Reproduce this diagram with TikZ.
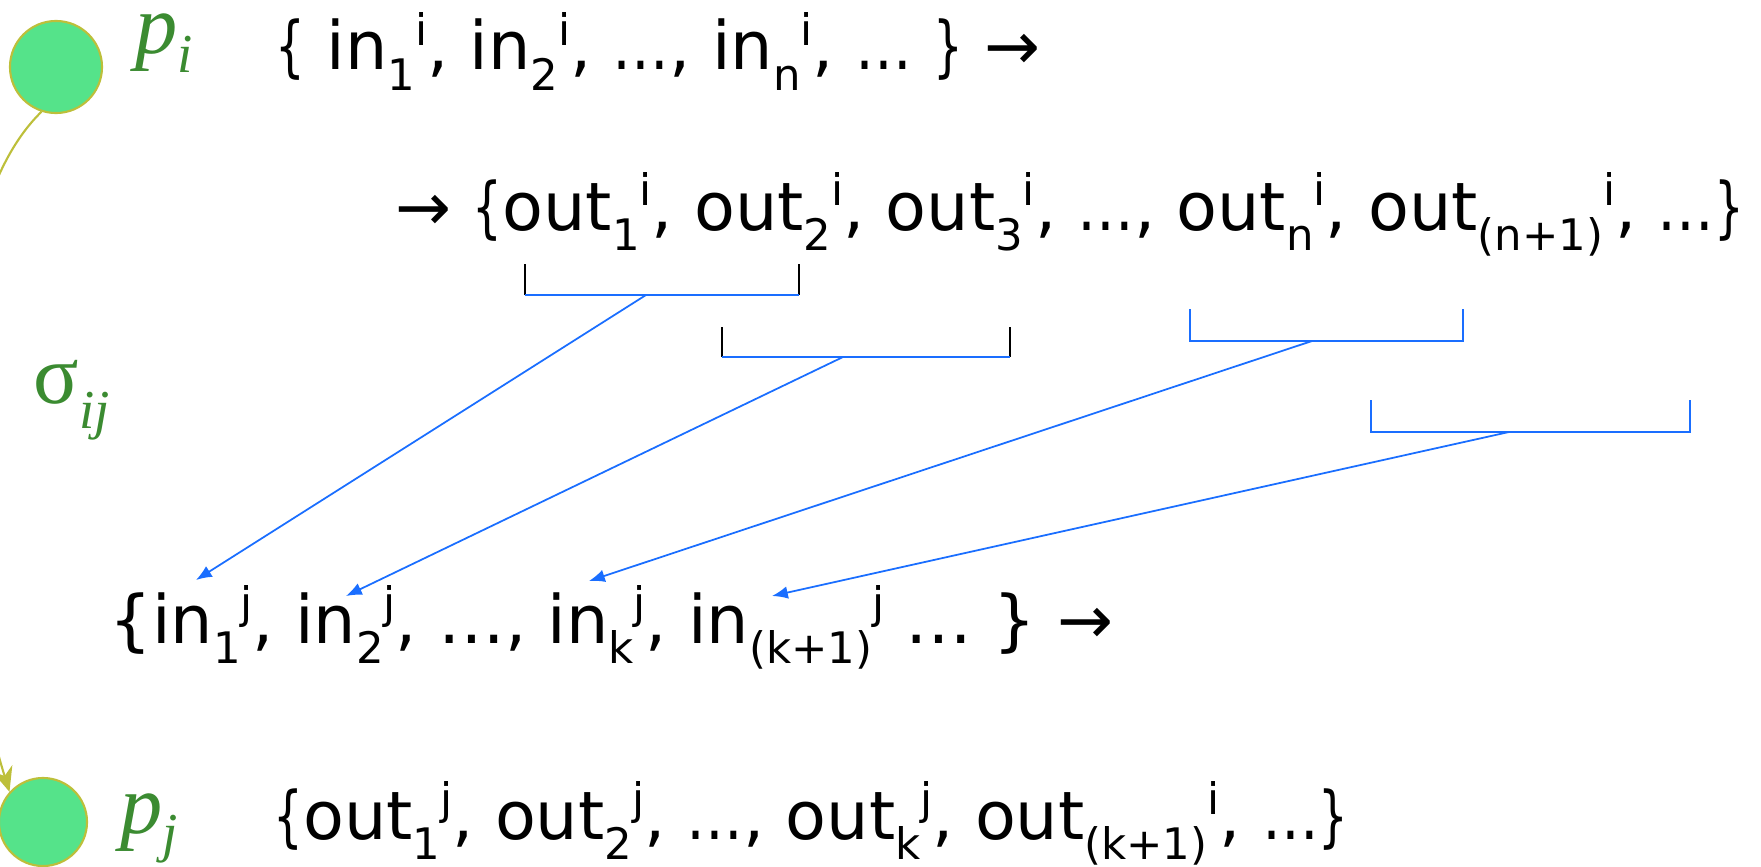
\documentclass[tikz,border=0pt]{standalone}
\usepackage{fontspec}
\setmainfont{DejaVu Sans}
\newfontfamily\chanserif{Liberation Serif}
\usetikzlibrary{arrows.meta}
\definecolor{chanFill}{HTML}{55E38A}
\definecolor{chanOlive}{HTML}{BDBF3A}
\definecolor{chanGreen}{HTML}{3B8B31}
\definecolor{chanBlue}{HTML}{1A6EFF}
% index pair: subscript then superscript, side by side
\newcommand{\chanss}[2]{\raisebox{-0.3em}{\scalebox{0.65}{#1}}\raisebox{0.36em}{\scalebox{0.65}{#2}}}
% narrow braces and dots of the sequences
\newcommand{\chanlb}{\scalebox{0.7}[1]{\{}}
\newcommand{\chanrb}{\scalebox{0.7}[1]{\}}}
\newcommand{\chandots}{\scalebox{0.85}[1]{…}}
\tikzset{
  chan proc/.style={
    circle,
    draw=chanOlive,
    line width=0.6pt,
    fill=chanFill,
    inner sep=0pt,
  },
}
\tikzset{
  chan label/.style={
    text=chanGreen,
    font=\chanserif\fontsize{24}{28}\selectfont,
    inner sep=0pt,
    anchor=base west,
  },
}
\tikzset{
  chan seq/.style={
    text=black,
    font=\fontsize{19}{23}\selectfont,
    inner sep=0pt,
    anchor=base west,
  },
}
\tikzset{
  chan bracket/.style={
    draw=chanBlue,
    line width=0.5pt,
  },
}
\tikzset{
  chan map/.style={
    -{Latex[length=4.5pt,width=3.6pt]},
    draw=chanBlue,
    line width=0.5pt,
  },
}
\tikzset{
  chan channel/.style={
    -{Stealth[length=7pt,width=6pt]},
    draw=chanOlive,
    line width=0.6pt,
  },
}

\begin{document}
\begin{tikzpicture}[x=0.01cm, y=-0.01cm]
  \useasboundingbox (0,0) rectangle (1761,867);

  % =========================================================================
  % processes p_i and p_j, channel sigma_ij between them
  % =========================================================================
  \node[chan proc, minimum size=0.92cm] (pi) at (56,67) {};
  \node[chan proc, minimum size=0.88cm] (pj) at (43,822) {};

  \node[chan label] (pilab) at (135,54) {\itshape p\raisebox{-0.22em}{\scalebox{0.65}{i}}};
  \node[chan label] (pjlab) at (120,833) {\itshape p\raisebox{-0.22em}{\scalebox{0.65}{j}}};
  \node[chan label] (sigma) at (33,403) {σ\raisebox{-0.3em}{\scalebox{0.65}{\itshape ij}}};

  \draw[chan channel] (pi.252) .. controls (-80,230) and (-50,600) .. (pj.138);

  % =========================================================================
  % message sequences
  % =========================================================================
  \node[chan seq] (ini) at (275,70)
    {\chanlb{} in\chanss{1}{i}, in\chanss{2}{i}, \chandots, in\chanss{n}{i}, \chandots{} \chanrb{} →};
  \node[chan seq] (outi) at (395,230)
    {→ \chanlb out\chanss{1}{i}, out\chanss{2}{i}, out\chanss{3}{i}, \chandots, out\chanss{n}{i}, out\chanss{(n+1)}{i}, \chandots\chanrb};
  \node[chan seq] (inj) at (109,643)
    {\{in\chanss{1}{j}, in\chanss{2}{j}, …, in\chanss{k}{j}, in\chanss{(k+1)}{j} … \} →};
  \node[chan seq] (outj) at (273,839)
    {\chanlb out\chanss{1}{j}, out\chanss{2}{j}, \chandots, out\chanss{k}{j}, out\chanss{(k+1)}{i}, \chandots\chanrb};

  % =========================================================================
  % brackets under the outputs of p_i
  % =========================================================================
  \coordinate (b1l) at (525,295);  \coordinate (b1r) at (799,295);
  \coordinate (b2l) at (722,357);  \coordinate (b2r) at (1010,357);
  \coordinate (b3l) at (1190,341); \coordinate (b3r) at (1463,341);
  \coordinate (b4l) at (1371,432); \coordinate (b4r) at (1690,432);

  \draw[black, line width=0.5pt] (b1l) -- ++(0,-31) (b1r) -- ++(0,-31);
  \draw[chan bracket] (b1l) -- (b1r);
  \draw[black, line width=0.5pt] (b2l) -- ++(0,-30) (b2r) -- ++(0,-30);
  \draw[chan bracket] (b2l) -- (b2r);
  \draw[chan bracket] (b3l) ++(0,-32) -- (b3l) -- (b3r) -- ++(0,-32);
  \draw[chan bracket] (b4l) ++(0,-32) -- (b4l) -- (b4r) -- ++(0,-32);

  % =========================================================================
  % mapping of output groups onto inputs of p_j
  % =========================================================================
  \coordinate (m1) at (646,295);
  \coordinate (m2) at (843,357);
  \coordinate (m3) at (1312,341);
  \coordinate (m4) at (1509,432);
  \coordinate (t1) at (196,580);
  \coordinate (t2) at (346,596);
  \coordinate (t3) at (589,581);
  \coordinate (t4) at (772,596);

  \draw[chan map] (m1) -- (t1);
  \draw[chan map] (m2) -- (t2);
  \draw[chan map] (m3) -- (t3);
  \draw[chan map] (m4) -- (t4);

\end{tikzpicture}
\end{document}
